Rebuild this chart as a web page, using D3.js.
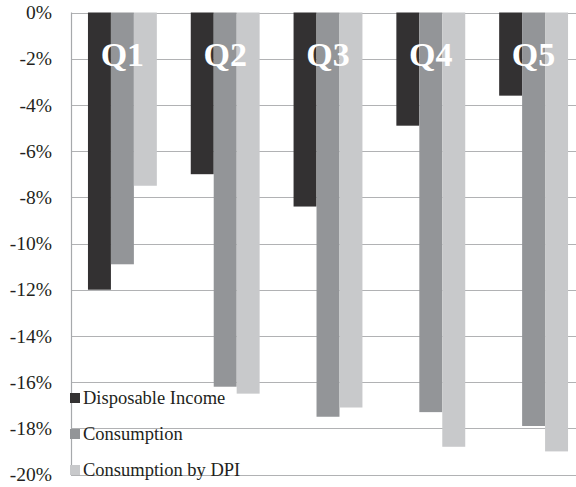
<!DOCTYPE html>
<html>
<head>
<meta charset="utf-8">
<script src="https://cdn.jsdelivr.net/npm/d3@7"></script>
<style>
html,body{margin:0;padding:0;background:#fff;overflow:hidden;}
svg{display:block;}
</style>
</head>
<body>
<svg id="chart" width="576" height="487"></svg>
<script>
const categories = ["Q1", "Q2", "Q3", "Q4", "Q5"];
const seriesNames = ["Disposable Income", "Consumption", "Consumption by DPI"];
const disposableIncome = [-12.0, -7.0, -8.4, -4.9, -3.6];
const consumption = [-10.9, -16.2, -17.5, -17.3, -17.9];
const consumptionByDPI = [-7.5, -16.5, -17.1, -18.8, -19.0];
const tickValues = [0, -2, -4, -6, -8, -10, -12, -14, -16, -18, -20];
const colors = ["#333132", "#939598", "#c8c9cb"];

const seriesValues = [disposableIncome, consumption, consumptionByDPI];
const svg = d3.select("#chart");
const mLeft = 71, mTop = 12.5, mBottom = 474.5, mRight = 585;
const serif = "'Liberation Serif','Times New Roman',serif";

const y = d3.scaleLinear().domain([0, -20]).range([mTop, mBottom]);
const x = d3.scaleBand().domain(categories).range([mLeft, mRight]).paddingInner(0.33).paddingOuter(0.165);
const xs = d3.scaleBand().domain(seriesNames).range([0, x.bandwidth()]);

// gridlines
svg.append("g").selectAll("line").data(tickValues).join("line")
  .attr("x1", mLeft).attr("x2", 576)
  .attr("y1", d => Math.round(y(d)) + 0.5).attr("y2", d => Math.round(y(d)) + 0.5)
  .attr("stroke", "#b1b2b4").attr("stroke-width", 1.2);

// y axis
const yAxis = d3.axisLeft(y).tickValues(tickValues).tickSize(0).tickPadding(0)
  .tickFormat(d => d + "%");
const ga = svg.append("g").attr("transform", `translate(${mLeft - 19},0)`).call(yAxis);
ga.select(".domain").remove();
ga.selectAll("text").attr("font-family", serif)
  .attr("font-size", 19.5).attr("fill", "#231f20");

// left axis line
svg.append("line").attr("x1", mLeft + 0.5).attr("x2", mLeft + 0.5)
  .attr("y1", mTop).attr("y2", mBottom + 0.5).attr("stroke", "#a7a9ac").attr("stroke-width", 1.2);

// bars
seriesNames.forEach((s, si) => {
  svg.append("g").selectAll("rect").data(categories).join("rect")
    .attr("x", (c) => x(c) + xs(s))
    .attr("y", y(0))
    .attr("width", xs.bandwidth())
    .attr("height", (c, i) => y(seriesValues[si][i]) - y(0))
    .attr("fill", colors[si]);
});

// Q labels
svg.append("g").selectAll("text").data(categories).join("text")
  .attr("x", c => x(c) + x.bandwidth() / 2)
  .attr("y", 66)
  .attr("text-anchor", "middle")
  .attr("font-family", serif)
  .attr("font-weight", "bold")
  .attr("font-size", 34)
  .attr("fill", "#ffffff")
  .text(c => c);

// legend
const lg = svg.append("g");
seriesNames.forEach((s, i) => {
  const yy = 393 + i * 36;
  lg.append("rect").attr("x", mLeft - 1).attr("y", yy).attr("width", 10).attr("height", 10).attr("fill", colors[i]);
  lg.append("text").attr("x", 83).attr("y", yy + 11)
    .attr("font-family", serif)
    .attr("font-size", 18.5).attr("fill", "#231f20").text(s);
});
</script>
</body>
</html>
